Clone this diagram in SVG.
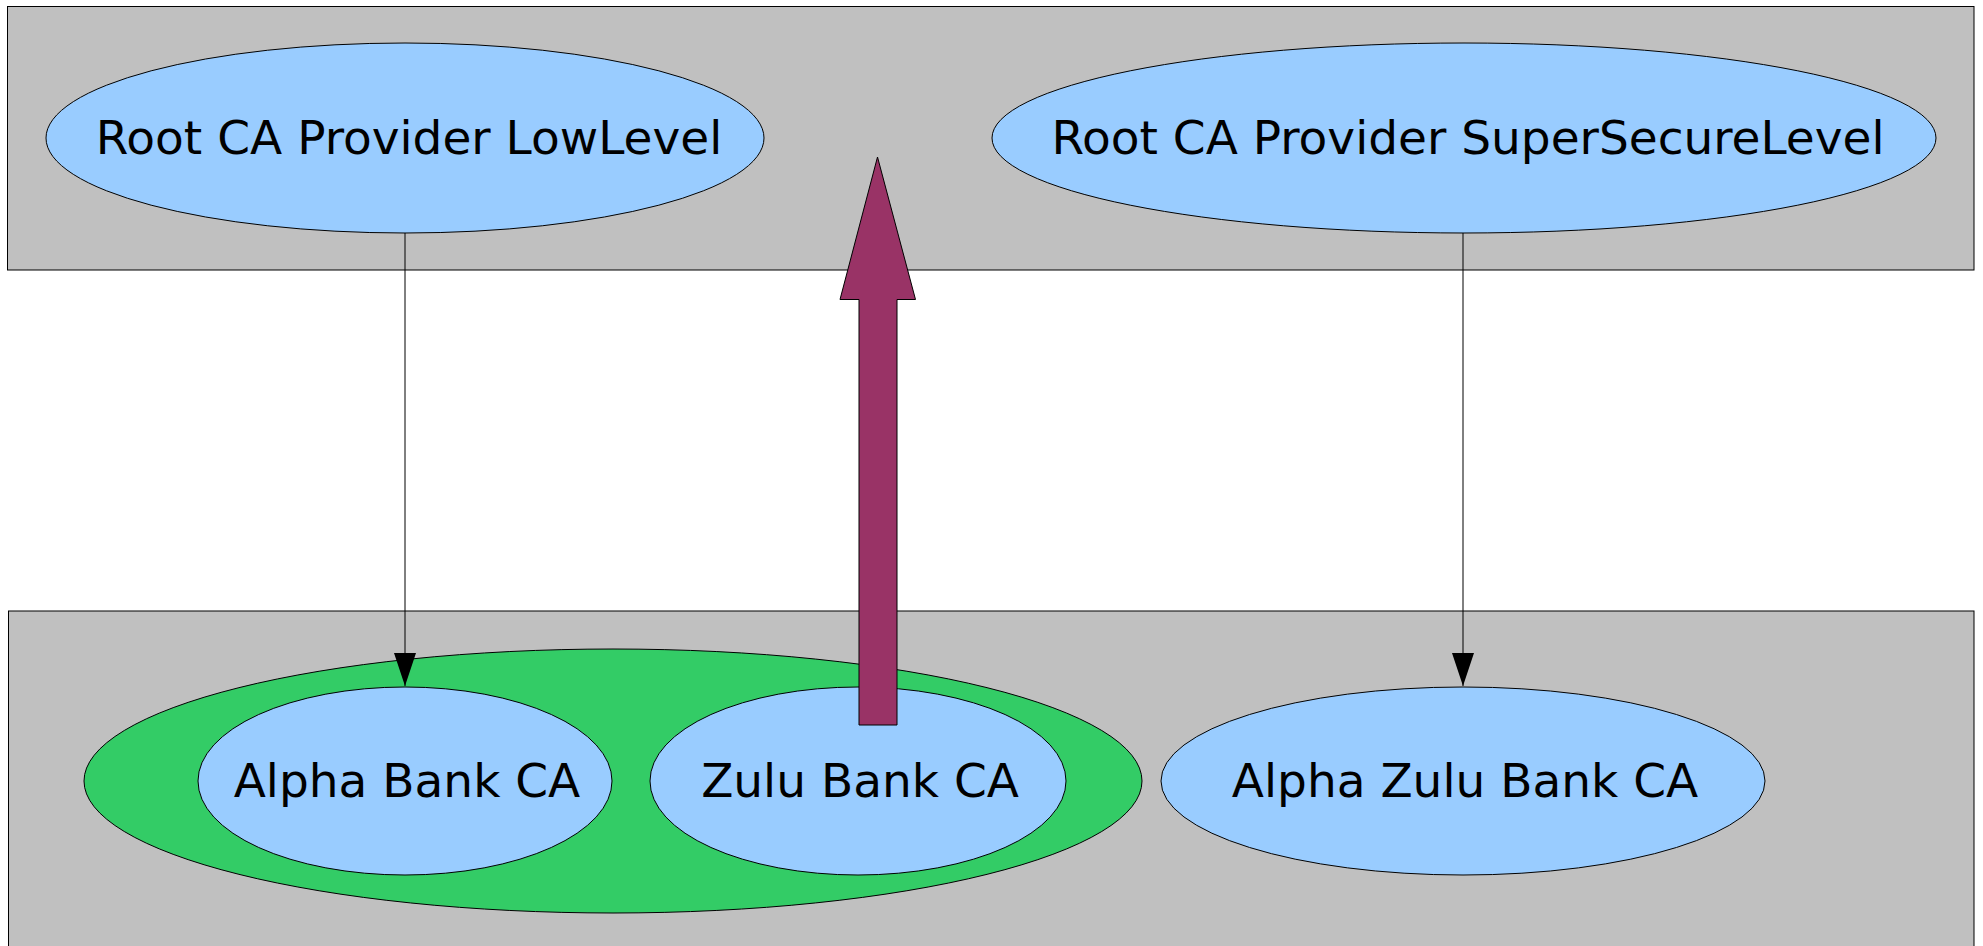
<svg xmlns="http://www.w3.org/2000/svg" width="1983" height="946" viewBox="0 0 1983 946">
<style>
.panel{fill:#c0c0c0;stroke:#000;stroke-width:1}
.node{fill:#99ccff;stroke:#000;stroke-width:1}
.group{fill:#33cc66;stroke:#000;stroke-width:1}
.lbl{font-family:"DejaVu Sans",sans-serif;font-size:47px;fill:#000;text-anchor:middle}
.edge{stroke:#000;stroke-width:1;fill:none}
</style>
<defs>
<marker id="ah" markerUnits="userSpaceOnUse" markerWidth="33" markerHeight="22" refX="33" refY="11" viewBox="0 0 33 22" orient="auto">
<path d="M0,0 L33,11 L0,22 Z" fill="#000"/>
</marker>
</defs>
<rect width="1983" height="946" fill="#fff"/>
<rect id="panel-top" class="panel" x="7.5" y="6.5" width="1966.5" height="263.5"/>
<rect id="panel-bottom" class="panel" x="8.5" y="611" width="1965.5" height="345"/>
<g id="root-low">
<ellipse class="node" cx="405" cy="138" rx="359" ry="95"/>
<text class="lbl" x="409" y="154">Root CA Provider LowLevel</text>
</g>
<g id="root-super">
<ellipse class="node" cx="1464" cy="138" rx="472" ry="95"/>
<text class="lbl" x="1468" y="154">Root CA Provider SuperSecureLevel</text>
</g>
<g id="bank-group">
<ellipse class="group" cx="613" cy="781" rx="529" ry="132"/>
</g>
<g id="alpha-bank">
<ellipse class="node" cx="405" cy="781" rx="207" ry="94"/>
<text class="lbl" x="407" y="797">Alpha Bank CA</text>
</g>
<g id="zulu-bank">
<ellipse class="node" cx="858" cy="781" rx="208" ry="94"/>
<text class="lbl" x="860" y="797">Zulu Bank CA</text>
</g>
<g id="alpha-zulu-bank">
<ellipse class="node" cx="1463" cy="781" rx="302" ry="94"/>
<text class="lbl" x="1465" y="797">Alpha Zulu Bank CA</text>
</g>
<g id="connectors">
<line class="edge" x1="405" y1="233" x2="405" y2="686" marker-end="url(#ah)"/>
<line class="edge" x1="1463" y1="233" x2="1463" y2="686" marker-end="url(#ah)"/>
<polygon points="877.5,157 915.5,299.5 897,299.5 897,725 859,725 859,299.5 840,299.5" fill="#993366" stroke="#000" stroke-width="1"/>
</g>
</svg>
